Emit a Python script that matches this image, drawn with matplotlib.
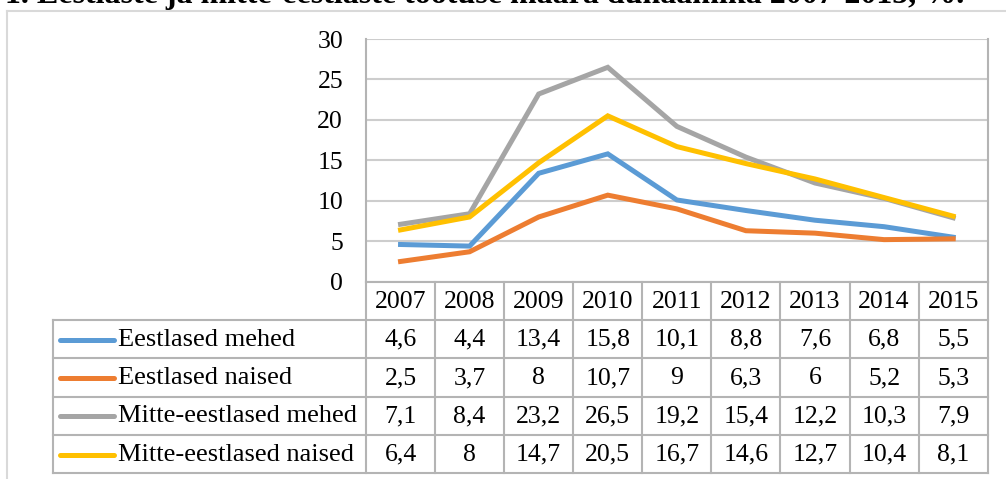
import matplotlib
matplotlib.use("Agg")
import matplotlib.pyplot as plt
from matplotlib.lines import Line2D

plt.rcParams["font.family"] = ["Liberation Serif", "DejaVu Serif"]

# chart data
years = ["2007", "2008", "2009", "2010", "2011", "2012", "2013", "2014", "2015"]
eest_mehed = [4.6, 4.4, 13.4, 15.8, 10.1, 8.8, 7.6, 6.8, 5.5]
eest_naised = [2.5, 3.7, 8, 10.7, 9, 6.3, 6, 5.2, 5.3]
mitte_mehed = [7.1, 8.4, 23.2, 26.5, 19.2, 15.4, 12.2, 10.3, 7.9]
mitte_naised = [6.4, 8, 14.7, 20.5, 16.7, 14.6, 12.7, 10.4, 8.1]
series_names = ["Eestlased mehed", "Eestlased naised",
                "Mitte-eestlased mehed", "Mitte-eestlased naised"]
colors = ["#5B9BD5", "#ED7D31", "#A5A5A5", "#FFC000"]
title = "1. Eestlaste ja mitte-eestlaste töötuse määra dünaamika 2007-2015, %."

W, H = 1006, 479
fig = plt.figure(figsize=(W / 100, H / 100), dpi=100)

# pixel layout of the plot area and data table
plot_l, plot_r, plot_t, plot_b = 366, 987.7, 39, 281.7
label_l = 53.3
row_edges = [281.7, 320, 358.3, 396.7, 435, 473.3]
table_col = "#B4B4B4"
grid_col = "#CDCDCD"
fs = 18.5
fs_leg = 19

ax = fig.add_axes([plot_l / W, 1 - plot_b / H, (plot_r - plot_l) / W, (plot_b - plot_t) / H])
all_series = [eest_mehed, eest_naised, mitte_mehed, mitte_naised]
x = list(range(len(years)))
for vals, c in zip(all_series, colors):
    ax.plot(x, vals, color=c, lw=3.6, solid_joinstyle="miter", zorder=3)
ax.set_xlim(-0.5, len(years) - 0.5)
ax.set_ylim(0, 30)
ax.set_yticks(range(0, 31, 5))
ax.set_xticks([])
ax.grid(axis="y", color=grid_col, lw=1.5)
ax.set_axisbelow(True)
ax.tick_params(axis="y", length=0, pad=16.5, labelsize=fs)
for s in ["top", "bottom"]:
    ax.spines[s].set_visible(False)
for s in ["left", "right"]:
    ax.spines[s].set_color(table_col)
    ax.spines[s].set_linewidth(1.5)

# overlay in pixel coordinates for the table, frame and title
ov = fig.add_axes([0, 0, 1, 1], facecolor="none")
ov.set_xlim(0, W)
ov.set_ylim(H, 0)
ov.axis("off")

# outer chart frame (cut off at right and bottom)
ov.plot([7.3, 7.3], [H + 5, 10.7], color="#D9D9D9", lw=1.5)
ov.plot([7.3, W + 5], [10.7, 10.7], color="#D9D9D9", lw=1.5)

ov.text(5, 3, title, fontsize=23, fontweight="bold", va="baseline", ha="left")

col_w = (plot_r - plot_l) / len(years)
col_edges = [plot_l + i * col_w for i in range(len(years) + 1)]

# horizontal table lines
ov.plot([plot_l, plot_r], [row_edges[0]] * 2, color=table_col, lw=1.5)
for y in row_edges[1:]:
    ov.plot([label_l, plot_r], [y, y], color=table_col, lw=1.5)
# vertical table lines
for xe in col_edges:
    ov.plot([xe, xe], [row_edges[0], row_edges[-1]], color=table_col, lw=1.5)
ov.plot([label_l, label_l], [row_edges[1], row_edges[-1]], color=table_col, lw=1.5)

# header row
yc = (row_edges[0] + row_edges[1]) / 2 + 1.5
for i, yr in enumerate(years):
    ov.text(col_edges[i] + col_w / 2, yc, yr, fontsize=fs, ha="center", va="center")

# data rows with legend keys
for r, (name, vals, c) in enumerate(zip(series_names, all_series, colors)):
    yc = (row_edges[r + 1] + row_edges[r + 2]) / 2 + 0.5
    ov.add_line(Line2D([60, 114.5], [yc, yc], color=c, lw=3.6, solid_capstyle="round"))
    ov.text(118.3, yc, name, fontsize=fs_leg, ha="left", va="center")
    for i, v in enumerate(vals):
        ov.text(col_edges[i] + col_w / 2, yc, f"{v:g}".replace(".", ","),
                fontsize=fs, ha="center", va="center")

fig.savefig("out.png", dpi=100)
